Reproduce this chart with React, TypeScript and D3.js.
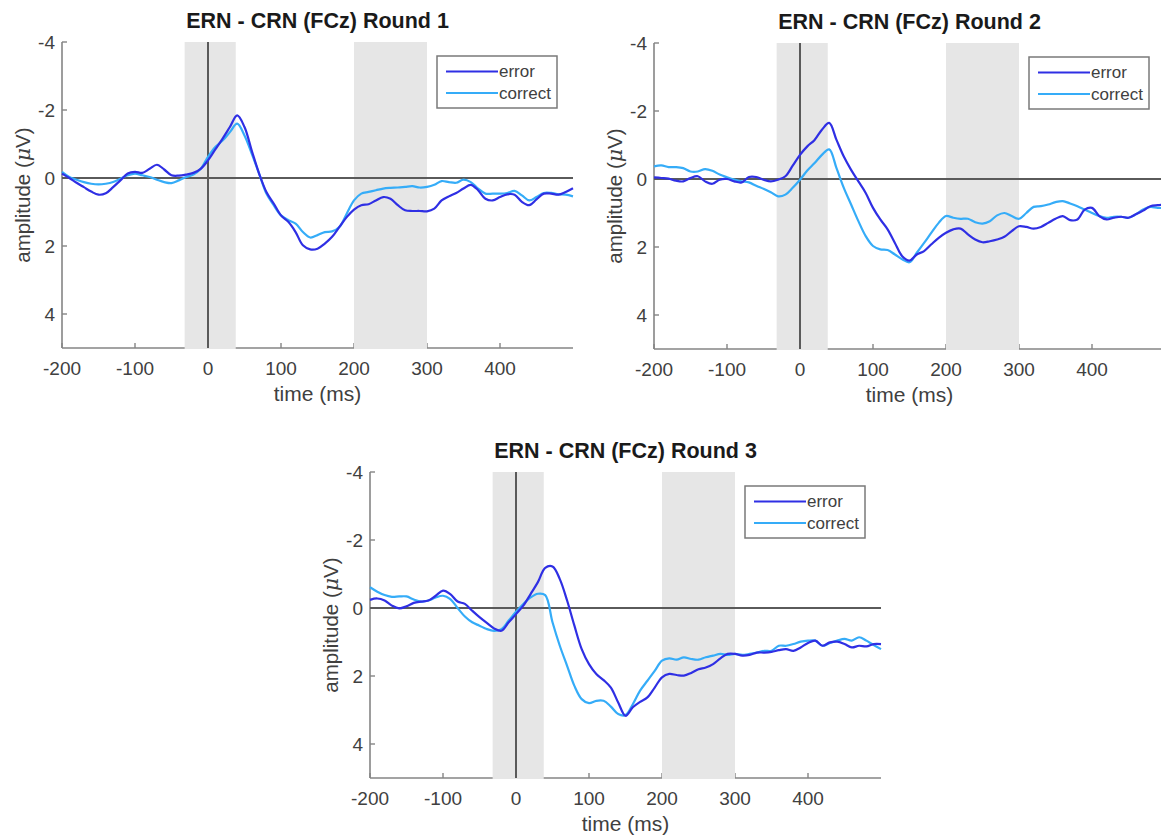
import React from 'react';
import * as d3 from 'd3';

// sample times (ms)
const TIMES: number[] = d3.range(-200, 501, 10);

const X_TICKS = [-200, -100, 0, 100, 200, 300, 400];
const Y_TICKS = [-4, -2, 0, 2, 4];
const BANDS: [number, number][] = [[-32, 38], [200, 300]];
const TITLES = ['ERN - CRN (FCz) Round 1', 'ERN - CRN (FCz) Round 2', 'ERN - CRN (FCz) Round 3'];
const LEGEND_LABELS = ['error', 'correct'];

const R1_ERROR = [
  -0.13, 0, 0.14, 0.27, 0.4, 0.49, 0.45, 0.27, 0.07, -0.13,
  -0.18, -0.15, -0.27, -0.39, -0.25, -0.08, -0.07, -0.1, -0.15, -0.27,
  -0.52, -0.84, -1.16, -1.5, -1.84, -1.5, -0.8, -0.13, 0.41, 0.75,
  1.1, 1.29, 1.59, 1.98, 2.1, 2.08, 1.93, 1.73, 1.44, 1.15,
  0.93, 0.8, 0.77, 0.66, 0.56, 0.61, 0.8, 0.95, 0.97, 0.97,
  0.98, 0.9, 0.66, 0.54, 0.44, 0.31, 0.2, 0.36, 0.61, 0.66,
  0.56, 0.48, 0.49, 0.7, 0.8, 0.63, 0.46, 0.46, 0.49, 0.41, 0.3,
];
const R1_CORRECT = [
  -0.18, -0.03, 0.05, 0.12, 0.17, 0.19, 0.17, 0.12, 0.02, -0.08,
  -0.13, -0.08, -0.03, 0.05, 0.12, 0.15, 0.07, -0.03, -0.1, -0.27,
  -0.62, -0.91, -1.1, -1.35, -1.6, -1.25, -0.71, -0.13, 0.46, 0.8,
  1.1, 1.24, 1.34, 1.59, 1.75, 1.68, 1.59, 1.57, 1.44, 1.05,
  0.66, 0.46, 0.41, 0.36, 0.31, 0.29, 0.28, 0.26, 0.24, 0.28,
  0.26, 0.2, 0.09, 0.12, 0.14, 0.05, 0.12, 0.31, 0.46, 0.46,
  0.46, 0.44, 0.38, 0.51, 0.66, 0.56, 0.44, 0.44, 0.48, 0.49, 0.54,
];
const R2_ERROR = [
  -0.05, -0.03, -0.01, 0.05, 0.07, -0.03, -0.08, 0.07, 0.14, 0.02,
  0, 0.07, 0.1, -0.06, -0.06, 0.02, 0.07, 0.02, -0.08, -0.39,
  -0.71, -0.96, -1.15, -1.45, -1.65, -1.15, -0.66, -0.27, 0.07, 0.41,
  0.85, 1.19, 1.48, 1.88, 2.27, 2.4, 2.22, 2.12, 1.92, 1.73,
  1.58, 1.48, 1.46, 1.63, 1.78, 1.86, 1.83, 1.78, 1.7, 1.53,
  1.39, 1.41, 1.46, 1.41, 1.29, 1.17, 1.09, 1.21, 1.19, 0.9,
  0.85, 1.09, 1.19, 1.14, 1.11, 1.14, 1.04, 0.93, 0.8, 0.77, 0.75,
];
const R2_CORRECT = [
  -0.37, -0.4, -0.35, -0.35, -0.32, -0.22, -0.22, -0.29, -0.24, -0.13,
  -0.05, 0.02, 0.07, 0.1, 0.2, 0.29, 0.39, 0.51, 0.46, 0.26,
  0.02, -0.25, -0.47, -0.71, -0.87, -0.32, 0.26, 0.75, 1.24, 1.68,
  1.97, 2.07, 2.09, 2.22, 2.36, 2.45, 2.17, 1.88, 1.58, 1.29,
  1.09, 1.14, 1.17, 1.17, 1.27, 1.31, 1.24, 1.07, 1.0, 1.09,
  1.17, 1.0, 0.82, 0.8, 0.75, 0.68, 0.65, 0.72, 0.8, 0.9,
  1.0, 1.09, 1.14, 1.11, 1.11, 1.14, 1.04, 0.9, 0.82, 0.85, 0.85,
];
const R3_ERROR = [
  -0.24, -0.28, -0.22, -0.07, 0.01, -0.05, -0.15, -0.19, -0.22, -0.36,
  -0.51, -0.41, -0.19, -0.12, 0.08, 0.27, 0.44, 0.6, 0.67, 0.42,
  0.18, -0.07, -0.41, -0.76, -1.18, -1.22, -0.85, -0.22, 0.52, 1.21,
  1.65, 1.94, 2.12, 2.34, 2.78, 3.17, 2.92, 2.76, 2.63, 2.34,
  2.04, 1.94, 1.97, 1.99, 1.91, 1.8, 1.75, 1.65, 1.48, 1.35,
  1.35, 1.4, 1.38, 1.31, 1.31, 1.29, 1.24, 1.21, 1.26, 1.16,
  1.03, 0.96, 1.11, 1.01, 0.99, 1.06, 1.16, 1.11, 1.13, 1.06, 1.06,
];
const R3_CORRECT = [
  -0.61, -0.48, -0.38, -0.33, -0.34, -0.34, -0.25, -0.19, -0.22, -0.31,
  -0.36, -0.26, 0.0, 0.25, 0.42, 0.52, 0.62, 0.67, 0.62, 0.37,
  0.11, -0.12, -0.31, -0.42, -0.38, 0.42, 1.11, 1.7, 2.29, 2.68,
  2.8, 2.73, 2.73, 2.9, 3.12, 3.15, 2.83, 2.43, 2.14, 1.85,
  1.55, 1.48, 1.52, 1.45, 1.5, 1.52, 1.45, 1.4, 1.35, 1.38,
  1.35, 1.38, 1.35, 1.31, 1.26, 1.26, 1.11, 1.11, 1.06, 0.99,
  0.96, 0.96, 1.11, 1.03, 0.96, 0.91, 0.96, 0.86, 0.96, 1.09, 1.21,
];

const ERROR_COLOR = '#2f2fe4';
const CORRECT_COLOR = '#35acf8';
const AXIS_COLOR = '#858585';
const TEXT_COLOR = '#404040';
const FONT = '"Liberation Sans", Arial, sans-serif';

type PanelProps = {
  left: number; right: number; top: number; bottom: number;
  title: string; error: number[]; correct: number[];
};

function Panel({ left, right, top, bottom, title, error, correct }: PanelProps) {
  const x = d3.scaleLinear().domain([-200, 500]).range([left, right]);
  const y = d3.scaleLinear().domain([-4, 5]).range([top, bottom]);
  const line = d3.line<number>()
    .x((_, i) => x(TIMES[i]))
    .y((d) => y(d))
    .curve(d3.curveCatmullRom.alpha(0.5));
  const lgX = right - 16 - 120;
  const lgY = top + 14;
  const midY = (top + bottom) / 2;
  return (
    <g>
      {/* axes */}
      <line x1={left} x2={left} y1={top} y2={bottom} stroke={AXIS_COLOR} strokeWidth={1.6} />
      <line x1={left} x2={right} y1={bottom} y2={bottom} stroke={AXIS_COLOR} strokeWidth={1.6} />
      {Y_TICKS.map((t) => (
        <g key={'y' + t}>
          <line x1={left} x2={left + 5} y1={y(t)} y2={y(t)} stroke={AXIS_COLOR} strokeWidth={1.4} />
          <text x={left - 7} y={y(t)} dy="0.36em" textAnchor="end" fontSize={19} fill={TEXT_COLOR} fontFamily={FONT}>{t}</text>
        </g>
      ))}
      {X_TICKS.map((t) => (
        <g key={'x' + t}>
          <line x1={x(t)} x2={x(t)} y1={bottom} y2={bottom - 5} stroke={AXIS_COLOR} strokeWidth={1.4} />
          <text x={x(t)} y={bottom + 27} textAnchor="middle" fontSize={19} fill={TEXT_COLOR} fontFamily={FONT}>{t}</text>
        </g>
      ))}
      {/* shaded windows */}
      {BANDS.map(([a, b], i) => (
        <rect key={'b' + i} x={x(a)} y={top} width={x(b) - x(a)} height={bottom - top + 1} fill="#e6e6e6" />
      ))}
      {/* zero lines */}
      <line x1={left} x2={right} y1={y(0)} y2={y(0)} stroke="#5a5a5a" strokeWidth={2} />
      <line x1={x(0)} x2={x(0)} y1={top} y2={bottom} stroke="#5a5a5a" strokeWidth={2} />
      {/* data */}
      <path d={line(correct) || ''} fill="none" stroke={CORRECT_COLOR} strokeWidth={2.2} />
      <path d={line(error) || ''} fill="none" stroke={ERROR_COLOR} strokeWidth={2.2} />
      {/* legend */}
      <rect x={lgX} y={lgY} width={120} height={52} fill="#ffffff" stroke="#7a7a7a" strokeWidth={1.5} />
      {LEGEND_LABELS.map((lab, i) => {
        const ly = lgY + 15.5 + i * 21.5;
        return (
          <g key={lab}>
            <line x1={lgX + 9} x2={lgX + 61} y1={ly} y2={ly} stroke={i === 0 ? ERROR_COLOR : CORRECT_COLOR} strokeWidth={2.2} />
            <text x={lgX + 62} y={ly} dy="0.35em" fontSize={17} fill={TEXT_COLOR} fontFamily={FONT}>{lab}</text>
          </g>
        );
      })}
      {/* titles and labels */}
      <text x={(left + right) / 2} y={top - 14} textAnchor="middle" fontSize={21.5} fontWeight="bold" fill="#1a1a1a" fontFamily={FONT}>{title}</text>
      <text x={(left + right) / 2} y={bottom + 53} textAnchor="middle" fontSize={21} fill={TEXT_COLOR} fontFamily={FONT}>time (ms)</text>
      <text transform={`translate(${left - 39},${midY}) rotate(-90)`} dy="0.35em" textAnchor="middle" fontSize={20.5} fill={TEXT_COLOR} fontFamily={FONT}>
        amplitude (<tspan fontStyle="italic" fontFamily="'DejaVu Serif', serif">μ</tspan>V)
      </text>
    </g>
  );
}

export default function App() {
  return (
    <svg width={1161} height={836} style={{ position: 'absolute', left: 0, top: 0, background: '#ffffff' }}>
      <rect x={0} y={0} width={1161} height={836} fill="#ffffff" />
      <Panel left={62} right={573} top={42} bottom={348} title={TITLES[0]} error={R1_ERROR} correct={R1_CORRECT} />
      <Panel left={654} right={1165} top={43} bottom={349} title={TITLES[1]} error={R2_ERROR} correct={R2_CORRECT} />
      <Panel left={370} right={881} top={472} bottom={778} title={TITLES[2]} error={R3_ERROR} correct={R3_CORRECT} />
    </svg>
  );
}
